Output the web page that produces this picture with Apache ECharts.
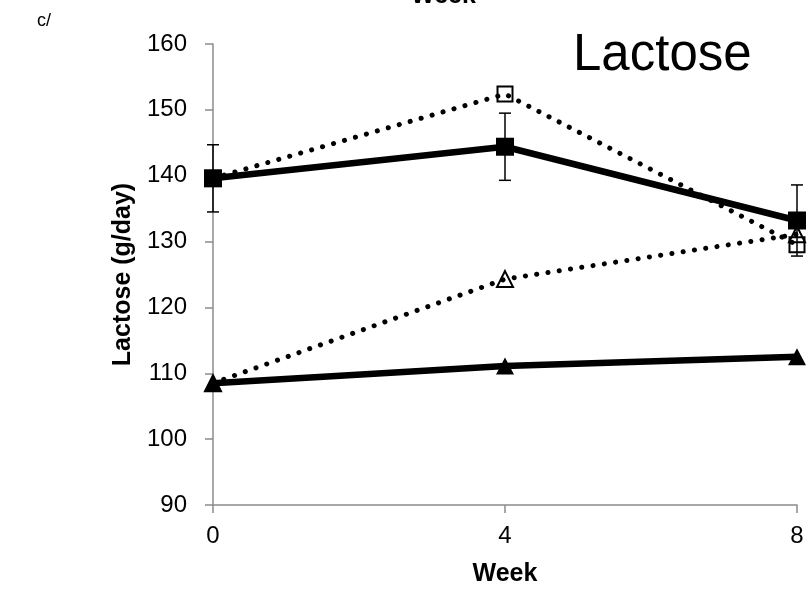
<!DOCTYPE html>
<html>
<head>
<meta charset="utf-8">
<script src="https://cdn.jsdelivr.net/npm/echarts@6/dist/echarts.min.js"></script>
<style>
  html, body { margin: 0; padding: 0; background: #fff; }
  #chart { width: 807px; height: 589px; }
</style>
</head>
<body>
<div id="chart"></div>
<script>
// Weeks on the x axis
const weeks = [0, 4, 8];
// Lactose yield (g/day) per group
const solidSquare = [139.6, 144.4, 133.2];
const solidSquareErr = [5.1, 5.1, 5.4];
const openSquare = [139.6, 152.4, 129.5];
const openTriangle = [108.5, 124.3, 131.1];
const solidTriangle = [108.5, 111.1, 112.5];
// Axis ticks
const yTicks = [90, 100, 110, 120, 130, 140, 150, 160];
const xTicks = [0, 4, 8];

const FONT = 'Liberation Sans, Arial, sans-serif';
const AXIS_GRAY = '#8c8c8c';

const pair = (vals) => weeks.map((w, i) => [w, vals[i]]);

const dotted = { color: '#000', width: 5, type: [0.1, 11.3], cap: 'round' };
const solid = { color: '#000', width: 6.5 };

const chart = echarts.init(document.getElementById('chart'));
chart.setOption({
  animation: false,
  backgroundColor: '#fff',
  grid: { left: 213, right: 10, top: 44, bottom: 84, outerBoundsMode: 'none', containLabel: false },
  xAxis: {
    type: 'value',
    min: xTicks[0], max: xTicks[xTicks.length - 1], interval: 4,
    name: 'Week', nameLocation: 'middle', nameGap: 57,
    nameTextStyle: { fontFamily: FONT, fontSize: 25, fontWeight: 'bold', color: '#000' },
    axisLine: { lineStyle: { color: AXIS_GRAY, width: 1.5 } },
    axisTick: { show: true, inside: false, length: 8, lineStyle: { color: AXIS_GRAY, width: 1.5 } },
    axisLabel: { fontFamily: FONT, fontSize: 24, color: '#000', margin: 19 },
    splitLine: { show: false }
  },
  yAxis: {
    type: 'value',
    min: yTicks[0], max: yTicks[yTicks.length - 1], interval: 10,
    name: 'Lactose (g/day)', nameLocation: 'middle', nameGap: 74,
    nameTextStyle: { fontFamily: FONT, fontSize: 25, fontWeight: 'bold', color: '#000' },
    axisLine: { show: true, lineStyle: { color: AXIS_GRAY, width: 1.5 } },
    axisTick: { show: true, inside: false, length: 8, lineStyle: { color: AXIS_GRAY, width: 1.5 } },
    axisLabel: { fontFamily: FONT, fontSize: 24, color: '#000', margin: 26 },
    splitLine: { show: false }
  },
  graphic: [
    { type: 'text', left: 37, top: 12, style: { text: 'c/', fontFamily: FONT, fontSize: 18, fill: '#000' } },
    { type: 'text', left: 573, top: 30, style: { text: 'Lactose', fontFamily: FONT, fontSize: 51, fill: '#000' } },
    { type: 'text', left: 411, top: -16, style: { text: 'Week', fontFamily: FONT, fontSize: 25, fontWeight: 'bold', fill: '#000' } }
  ],
  series: [
    {
      type: 'line', data: pair(openTriangle), lineStyle: dotted,
      symbol: 'triangle', symbolSize: [16, 16],
      itemStyle: { color: 'rgba(0,0,0,0)', borderColor: '#000', borderWidth: 2 }, z: 3
    },
    {
      type: 'line', data: pair(openSquare), lineStyle: dotted,
      symbol: 'rect', symbolSize: 15,
      itemStyle: { color: 'rgba(0,0,0,0)', borderColor: '#000', borderWidth: 2 }, z: 3
    },
    {
      type: 'line', data: pair(solidTriangle), lineStyle: solid,
      symbol: 'triangle', symbolSize: [18, 17],
      itemStyle: { color: '#000' }, z: 4
    },
    {
      type: 'line', data: pair(solidSquare), lineStyle: solid,
      symbol: 'rect', symbolSize: 18,
      itemStyle: { color: '#000' }, z: 4
    },
    {
      // Error bars for the solid-square group
      type: 'custom', z: 5,
      data: weeks.map((w, i) => [w, solidSquare[i] - solidSquareErr[i], solidSquare[i] + solidSquareErr[i]]),
      renderItem: (params, api) => {
        const lo = api.coord([api.value(0), api.value(1)]);
        const hi = api.coord([api.value(0), api.value(2)]);
        const half = 6;
        const st = { stroke: '#000', lineWidth: 1.5 };
        return {
          type: 'group',
          children: [
            { type: 'line', shape: { x1: lo[0], y1: lo[1], x2: hi[0], y2: hi[1] }, style: st },
            { type: 'line', shape: { x1: lo[0] - half, y1: lo[1], x2: lo[0] + half, y2: lo[1] }, style: st },
            { type: 'line', shape: { x1: hi[0] - half, y1: hi[1], x2: hi[0] + half, y2: hi[1] }, style: st }
          ]
        };
      }
    }
  ]
});
</script>
</body>
</html>
